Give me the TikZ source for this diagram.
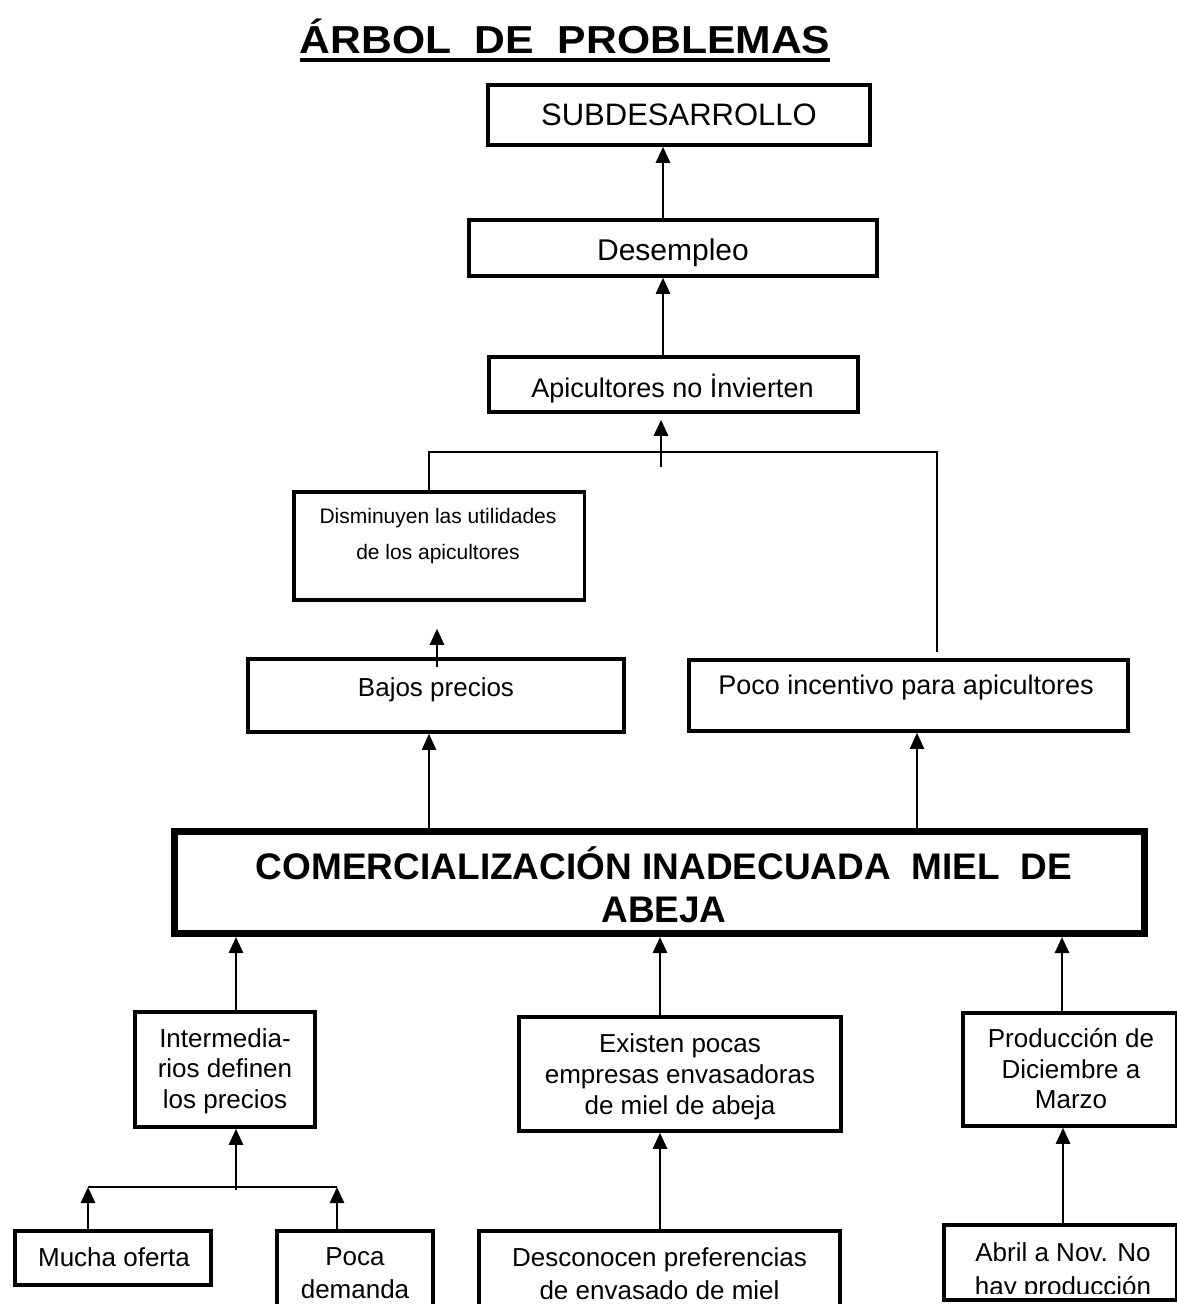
\documentclass[tikz,border=0pt]{standalone}
\usepackage{fontspec}
\setmainfont{Liberation Sans}
\usetikzlibrary{arrows.meta,calc}
\newcommand\fsz[2]{\fontsize{#1pt}{#2pt}\selectfont}

\begin{document}
\begin{tikzpicture}[x=1pt,y=-1pt,
  box/.style={draw, line width=3.5pt, inner sep=0pt, rectangle},
  txt/.style={inner sep=0pt, align=center},
  conn/.style={line width=2.6pt, -{Triangle[width=14pt,length=16pt]}},
  thinconn/.style={line width=2pt, -{Triangle[width=14pt,length=16pt]}},
  link/.style={line width=2.2pt}]
\useasboundingbox (0,0) rectangle (1177,1304);
\clip (0,0) rectangle (1177,1304);

% title
\node[txt, anchor=base, font=\bfseries\fsz{39}{46}] (title) at (565,53)
  {\scalebox{1.093}[1]{ÁRBOL\ \ DE\ \ PROBLEMAS}};
\draw[line width=4pt] ([yshift=-6.5pt]title.base west) -- ([yshift=-6.5pt]title.base east);

% effects
\node[box, minimum width=382pt, minimum height=60pt] (sub) at (679,115) {};
\node[txt, anchor=base, font=\fsz{31}{37}] (sub-t) at (679,125.1) {SUBDESARROLLO};

\node[box, minimum width=408pt, minimum height=56pt] (desem) at (673,248) {};
\node[txt, anchor=base, font=\fsz{30}{36}] (desem-t) at (673,260.7) {Desempleo};

\node[box, minimum width=369pt, minimum height=55pt] (api) at (673.5,384.5) {};
\node[txt, anchor=base, font=\fsz{27}{32}] (api-t) at (672.5,397.7) {Apicultores no İnvierten};

\node[box, minimum width=290.5pt, minimum height=108pt] (dis) at (439,546) {};
\node[txt, font=\fsz{21}{36}] (dis-t) at (438,536) {Disminuyen las utilidades\\de los apicultores};

\node[box, minimum width=376pt, minimum height=73pt] (baj) at (436,695.5) {};
\node[txt, anchor=base, font=\fsz{26}{31}] (baj-t) at (436,696.3) {Bajos precios};

\node[box, minimum width=439pt, minimum height=71pt] (inc) at (908.5,695.5) {};
\node[txt, anchor=base, font=\fsz{27}{32}] (inc-t) at (906,694.7) {Poco incentivo para apicultores};

% central problem
\node[box, line width=7pt, minimum width=970pt, minimum height=102pt] (main) at (659.5,882.5) {};
\node[txt, font=\bfseries\fsz{37}{43.5}] (main-t) at (664,884.6)
  {COMERCIALIZACIÓN INADECUADA\ \ MIEL\ \ DE\\ABEJA};

% causes
\node[box, minimum width=180pt, minimum height=115pt] (int) at (225,1069.5) {};
\node[txt, font=\fsz{26}{30.5}] (int-t) at (225,1071) {Intermedia-\\rios definen\\los precios};

\node[box, minimum width=322pt, minimum height=114pt] (exi) at (680,1074) {};
\node[txt, font=\fsz{26}{31}] (exi-t) at (680,1076.5) {Existen pocas\\empresas envasadoras\\de miel de abeja};

\node[box, minimum width=214pt, minimum height=113pt] (pro) at (1070,1069.5) {};
\node[txt, font=\fsz{26}{30.5}] (pro-t) at (1071,1069) {Producción de\\Diciembre a\\Marzo};

\node[box, minimum width=196pt, minimum height=54pt] (muc) at (113,1258) {};
\node[txt, anchor=base, font=\fsz{26}{31}] (muc-t) at (114,1266.3) {Mucha oferta};

\node[box, minimum width=156pt, minimum height=109pt] (poca) at (355,1285.5) {};
\node[txt, font=\fsz{26}{33}] (poca-t) at (355,1273.5) {Poca\\demanda};

\node[box, minimum width=361pt, minimum height=109pt] (desco) at (659.5,1285.5) {};
\node[txt, font=\fsz{26}{33}] (desco-t) at (659.5,1273.3) {Desconocen preferencias\\de envasado de miel};

\begin{scope}
  \clip (944,1225) rectangle (1177,1293);
  \node[txt, font=\fsz{26}{34}] (abr-t) at (1063,1272) {Abril a Nov. No\\hay producción};
\end{scope}
\node[box, minimum width=233pt, minimum height=75pt] (abr) at (1060.5,1262.5) {};

% connector columns and junctions
\coordinate (xA) at (663,0);
\coordinate (xB) at (437,0);
\coordinate (xC) at (429,0);
\coordinate (xD) at (917,0);
\coordinate (xE) at (236,0);
\coordinate (xF) at (660,0);
\coordinate (xG) at (1062,0);
\coordinate (xH) at (1063,0);
\coordinate (jUp) at (661,467);
\coordinate (jL) at (429,452);
\coordinate (jR) at (937,452);
\coordinate (jEnd) at (937,652);
\coordinate (kUp) at (236,1190);
\coordinate (kL) at (88,1187);
\coordinate (kR) at (337,1187);

% upper chain
\draw[conn] (desem.north -| xA) -- (sub.south -| xA);
\draw[conn] (api.north -| xA) -- (desem.south -| xA);
\draw[link] (dis.north -| jL) -- (jL) -- (jR) -- (jEnd);
\draw[conn] (jUp) -- ($(api.south -| jUp)+(0,6)$);
\draw[conn] ($(baj.north -| xB)+(0,10)$) -- ($(dis.south -| xB)+(0,27)$);
\draw[thinconn] (main.north -| xC) -- (baj.south -| xC);
\draw[thinconn] (main.north -| xD) -- (inc.south -| xD);

% lower chain
\draw[conn] (int.north -| xE) -- (main.south -| xE);
\draw[conn] (exi.north -| xF) -- (main.south -| xF);
\draw[conn] (pro.north -| xG) -- (main.south -| xG);
\draw[link] (kL) -- (kR);
\draw[conn] (kUp) -- (int.south -| kUp);
\draw[conn] (muc.north -| kL) -- (kL);
\draw[conn] (poca.north -| kR) -- (kR);
\draw[conn] (desco.north -| xF) -- (exi.south -| xF);
\draw[conn] (abr.north -| xH) -- (pro.south -| xH);
\end{tikzpicture}
\end{document}
